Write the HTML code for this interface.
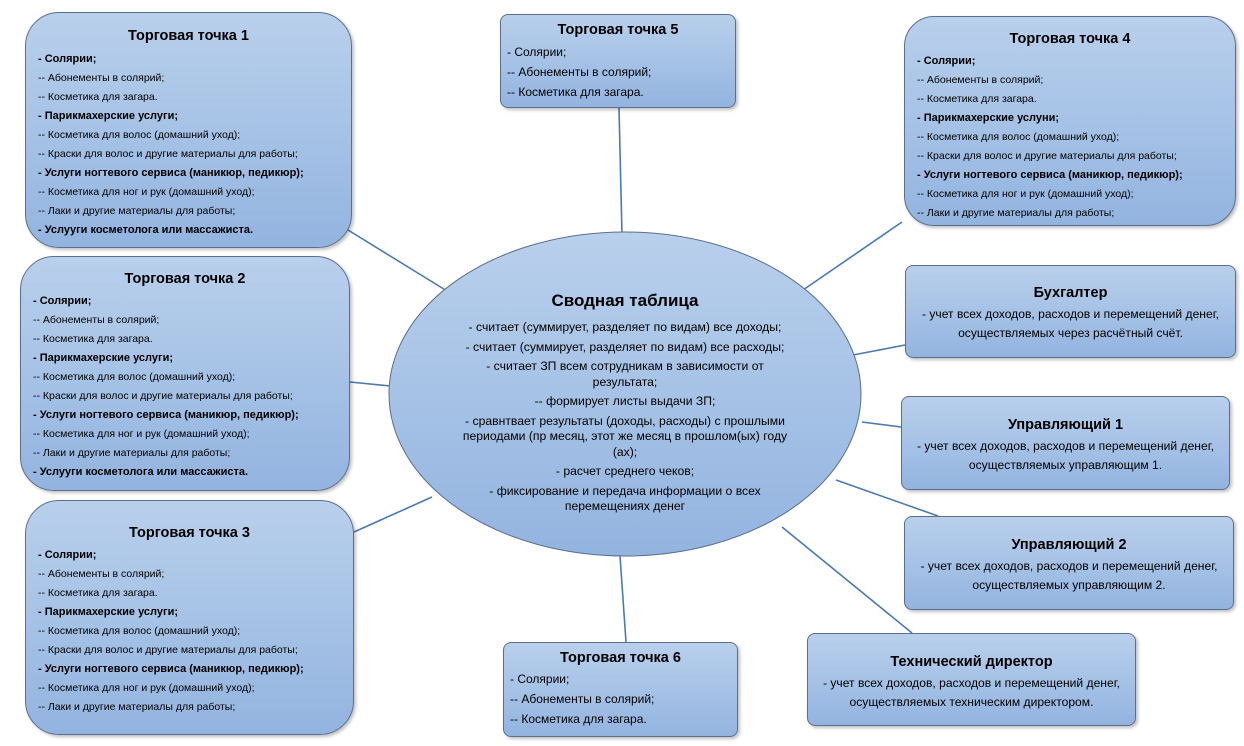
<!DOCTYPE html>
<html><head><meta charset="utf-8"><style>
body{margin:0;width:1244px;height:746px;background:#fff;position:relative;overflow:hidden;font-family:"Liberation Sans","DejaVu Sans",sans-serif;color:#000}
.b{position:absolute;box-sizing:border-box;border:1px solid #5a6f8e;background:linear-gradient(#b9d0ec,#93b4e0);box-shadow:2px 2px 3px rgba(0,0,0,.25)}
.b h3{margin:0;text-align:center;font-size:14.5px;font-weight:bold}
.l{font-size:10.5px;line-height:19px;white-space:nowrap}
.l b{font-size:11px}
.s{font-size:12px;line-height:20px;white-space:nowrap}
.c{text-align:center;font-size:12.2px;line-height:15.5px;white-space:nowrap}
.r{text-align:center;font-size:12.1px;line-height:19px;white-space:nowrap}
svg{position:absolute;left:0;top:0}
</style></head><body>
<svg width="1244" height="746">
<g stroke="#4a7ab0" stroke-width="1.6">
<line x1="348" y1="230" x2="447" y2="291"/>
<line x1="619" y1="108" x2="622" y2="235"/>
<line x1="902" y1="222" x2="803" y2="290"/>
<line x1="905" y1="345" x2="853" y2="355"/>
<line x1="350" y1="382" x2="390" y2="386"/>
<line x1="862" y1="422" x2="901" y2="427"/>
<line x1="354" y1="532" x2="432" y2="497"/>
<line x1="836" y1="480" x2="938" y2="516"/>
<line x1="782" y1="527" x2="912" y2="633"/>
<line x1="620" y1="556" x2="626" y2="642"/>
</g>
<defs><linearGradient id="g" x1="0" y1="0" x2="0" y2="1"><stop offset="0" stop-color="#b9d0ec"/><stop offset="1" stop-color="#93b4e0"/></linearGradient></defs>
<ellipse cx="625" cy="394" rx="236" ry="162" fill="url(#g)" stroke="#5a6f8e" stroke-width="1"/>
</svg>
<div style="position:absolute;left:425px;top:291px;width:400px;text-align:center">
<div style="font-size:17px;font-weight:bold;margin-bottom:9px">Сводная таблица</div>
<div class="c">- считает (суммирует, разделяет по видам) все доходы;</div>
<div class="c" style="margin-top:4px">- считает (суммирует, разделяет по видам) все расходы;</div>
<div class="c" style="margin-top:4px">- считает ЗП всем сотрудникам в зависимости от<br>результата;</div>
<div class="c" style="margin-top:4px">-- формирует листы выдачи ЗП;</div>
<div class="c" style="margin-top:4px">- сравнтвает результаты (доходы, расходы) с прошлыми<br>периодами (пр месяц, этот же месяц в прошлом(ых) году<br>(ах);</div>
<div class="c" style="margin-top:4px">- расчет среднего чеков;</div>
<div class="c" style="margin-top:4px">- фиксирование и передача информации о всех<br>перемещениях денег</div>
</div>

<div class="b" style="left:25px;top:12px;width:327px;height:236px;border-radius:34px;padding:15px 0 0 12px">
<h3 style="margin-left:-12px;margin-bottom:6px">Торговая точка 1</h3>
<div class="l"><b>- Солярии;</b><br>-- Абонементы в солярий;<br>-- Косметика для загара.<br><b>- Парикмахерские услуги;</b><br>-- Косметика для волос (домашний уход);<br>-- Краски для волос и другие материалы для работы;<br><b>- Услуги ногтевого сервиса (маникюр, педикюр);</b><br>-- Косметика для ног и рук (домашний уход);<br>-- Лаки и другие материалы для работы;<br><b>- Услууги косметолога или массажиста.</b></div></div>

<div class="b" style="left:20px;top:256px;width:330px;height:235px;border-radius:34px;padding:14px 0 0 12px">
<h3 style="margin-left:-12px;margin-bottom:5px">Торговая точка 2</h3>
<div class="l"><b>- Солярии;</b><br>-- Абонементы в солярий;<br>-- Косметика для загара.<br><b>- Парикмахерские услуги;</b><br>-- Косметика для волос (домашний уход);<br>-- Краски для волос и другие материалы для работы;<br><b>- Услуги ногтевого сервиса (маникюр, педикюр);</b><br>-- Косметика для ног и рук (домашний уход);<br>-- Лаки и другие материалы для работы;<br><b>- Услууги косметолога или массажиста.</b></div></div>

<div class="b" style="left:25px;top:500px;width:329px;height:235px;border-radius:34px;padding:24px 0 0 12px">
<h3 style="margin-left:-12px;margin-bottom:5px">Торговая точка 3</h3>
<div class="l"><b>- Солярии;</b><br>-- Абонементы в солярий;<br>-- Косметика для загара.<br><b>- Парикмахерские услуги;</b><br>-- Косметика для волос (домашний уход);<br>-- Краски для волос и другие материалы для работы;<br><b>- Услуги ногтевого сервиса (маникюр, педикюр);</b><br>-- Косметика для ног и рук (домашний уход);<br>-- Лаки и другие материалы для работы;</div></div>

<div class="b" style="left:904px;top:16px;width:332px;height:210px;border-radius:30px;padding:14px 0 0 12px">
<h3 style="margin-left:-12px;margin-bottom:5px">Торговая точка 4</h3>
<div class="l"><b>- Солярии;</b><br>-- Абонементы в солярий;<br>-- Косметика для загара.<br><b>- Парикмахерские услуни;</b><br>-- Косметика для волос (домашний уход);<br>-- Краски для волос и другие материалы для работы;<br><b>- Услуги ногтевого сервиса (маникюр, педикюр);</b><br>-- Косметика для ног и рук (домашний уход);<br>-- Лаки и другие материалы для работы;</div></div>

<div class="b" style="left:500px;top:14px;width:236px;height:94px;border-radius:8px;padding:7px 0 0 6px">
<h3 style="margin-left:-6px;margin-bottom:4px">Торговая точка 5</h3>
<div class="s">- Солярии;<br>-- Абонементы в солярий;<br>-- Косметика для загара.</div></div>

<div class="b" style="left:503px;top:642px;width:235px;height:95px;border-radius:8px;padding:7px 0 0 6px">
<h3 style="margin-left:-6px;margin-bottom:3px">Торговая точка 6</h3>
<div class="s">- Солярии;<br>-- Абонементы в солярий;<br>-- Косметика для загара.</div></div>

<div class="b" style="left:905px;top:265px;width:331px;height:93px;border-radius:8px;padding:19px 0 0 0">
<h3 style="margin-bottom:4px">Бухгалтер</h3>
<div class="r">- учет всех доходов, расходов и перемещений денег,<br>осуществляемых через расчётный счёт.</div></div>

<div class="b" style="left:901px;top:396px;width:329px;height:94px;border-radius:8px;padding:20px 0 0 0">
<h3 style="margin-bottom:4px">Управляющий 1</h3>
<div class="r">- учет всех доходов, расходов и перемещений денег,<br>осуществляемых управляющим 1.</div></div>

<div class="b" style="left:904px;top:516px;width:330px;height:94px;border-radius:8px;padding:20px 0 0 0">
<h3 style="margin-bottom:4px">Управляющий 2</h3>
<div class="r">- учет всех доходов, расходов и перемещений денег,<br>осуществляемых управляющим 2.</div></div>

<div class="b" style="left:807px;top:633px;width:329px;height:93px;border-radius:8px;padding:20px 0 0 0">
<h3 style="margin-bottom:4px">Технический директор</h3>
<div class="r">- учет всех доходов, расходов и перемещений денег,<br>осуществляемых техническим директором.</div></div>
</body></html>
